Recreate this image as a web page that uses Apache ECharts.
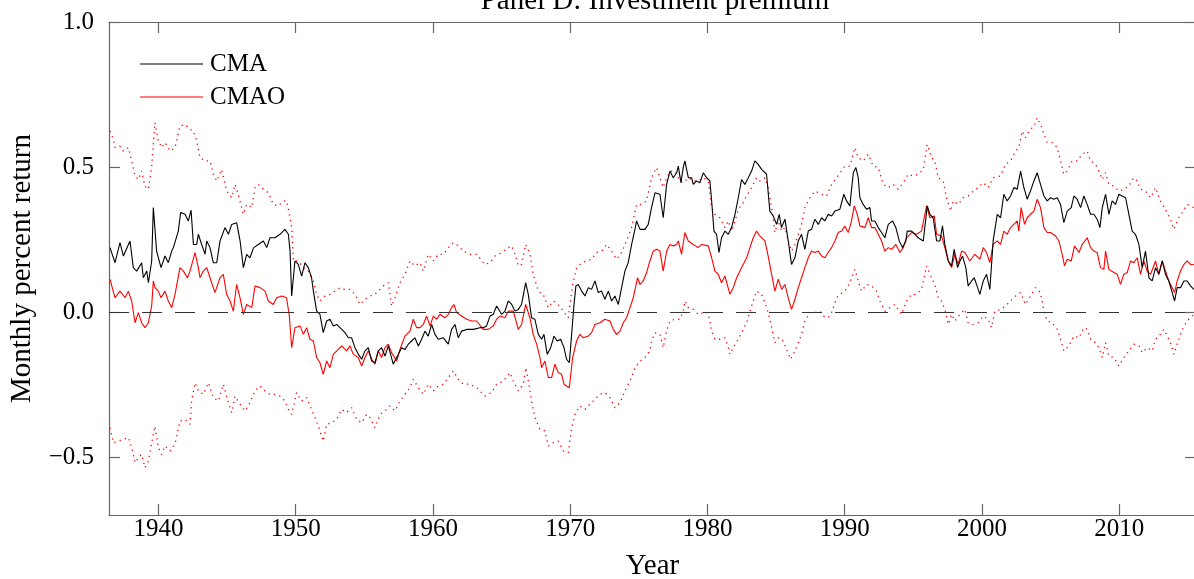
<!DOCTYPE html>
<html>
<head>
<meta charset="utf-8">
<title>Panel D: Investment premium</title>
<script src="https://cdn.jsdelivr.net/npm/echarts@6/dist/echarts.min.js"></script>
<style>
  html, body { margin: 0; padding: 0; background: #fff; }
  #InvestmentChartDom { width: 1194px; height: 579px; }
</style>
</head>
<body>
<div id="InvestmentChartDom"></div>
<script>
// [year, monthly percent return]
const cma = [
  [1936.47,0.222],[1936.84,0.170],[1937.20,0.239],[1937.45,0.193],[1937.93,0.245],[1938.17,0.153],[1938.42,0.141],[1938.78,0.170],[1938.90,0.118],[1939.15,0.141],
  [1939.27,0.101],[1939.51,0.176],[1939.63,0.360],[1939.87,0.210],[1940.19,0.153],[1940.48,0.193],[1940.72,0.170],[1940.97,0.210],[1941.09,0.222],[1941.45,0.279],
  [1941.62,0.343],[1941.94,0.337],[1942.18,0.314],[1942.38,0.351],[1942.55,0.233],[1942.79,0.233],[1942.91,0.268],[1943.15,0.233],[1943.40,0.199],[1943.52,0.245],
  [1943.76,0.222],[1944.00,0.170],[1944.25,0.170],[1944.49,0.245],[1944.85,0.291],[1945.10,0.268],[1945.34,0.302],[1945.70,0.308],[1945.95,0.245],[1946.19,0.153],
  [1946.43,0.199],[1946.67,0.187],[1946.94,0.222],[1947.28,0.233],[1947.65,0.245],[1947.89,0.222],[1948.13,0.256],[1948.49,0.256],[1948.86,0.268],[1949.22,0.285],
  [1949.47,0.268],[1949.59,0.210],[1949.71,0.055],[1949.95,0.176],[1950.19,0.164],[1950.44,0.124],[1950.68,0.170],[1950.92,0.153],[1951.16,0.118],[1951.29,0.072],
  [1951.53,0.003],[1951.77,-0.008],[1952.01,-0.071],[1952.26,-0.031],[1952.50,-0.025],[1952.74,-0.048],[1952.99,-0.043],[1953.23,-0.054],[1953.59,-0.071],[1953.84,-0.089],
  [1954.08,-0.089],[1954.32,-0.123],[1954.57,-0.146],[1954.81,-0.163],[1955.05,-0.134],[1955.29,-0.123],[1955.54,-0.169],[1955.78,-0.175],[1956.02,-0.134],[1956.26,-0.123],
  [1956.51,-0.152],[1956.75,-0.117],[1957.11,-0.180],[1957.48,-0.146],[1957.72,-0.123],[1957.96,-0.129],[1958.21,-0.111],[1958.45,-0.100],[1958.69,-0.089],[1958.94,-0.117],
  [1959.18,-0.094],[1959.42,-0.066],[1959.66,-0.083],[1959.91,-0.043],[1960.15,-0.077],[1960.39,-0.094],[1960.76,-0.089],[1961.12,-0.111],[1961.36,-0.060],[1961.61,-0.043],
  [1961.85,-0.089],[1962.09,-0.066],[1962.46,-0.060],[1962.94,-0.060],[1963.43,-0.054],[1963.67,-0.054],[1963.91,-0.048],[1964.16,-0.014],[1964.40,-0.008],[1964.64,0.021],
  [1964.76,0.026],[1965.01,-0.008],[1965.25,0.003],[1965.49,0.038],[1965.74,0.026],[1965.98,0.003],[1966.22,0.009],[1966.46,0.026],[1966.76,0.101],[1966.95,0.061],
  [1967.19,-0.020],[1967.43,-0.025],[1967.68,-0.077],[1967.92,-0.094],[1968.09,-0.077],[1968.33,-0.146],[1968.58,-0.123],[1968.82,-0.083],[1969.06,-0.100],[1969.31,-0.094],
  [1969.55,-0.123],[1969.74,-0.163],[1969.94,-0.175],[1970.11,-0.077],[1970.28,0.026],[1970.42,0.090],[1970.59,0.095],[1970.84,0.072],[1971.08,0.055],[1971.32,0.084],
  [1971.56,0.078],[1971.81,0.107],[1972.05,0.067],[1972.29,0.072],[1972.53,0.044],[1972.78,0.072],[1973.02,0.038],[1973.26,0.055],[1973.51,0.026],[1973.75,0.084],
  [1973.99,0.141],[1974.23,0.170],[1974.48,0.233],[1974.72,0.285],[1974.84,0.314],[1975.09,0.285],[1975.45,0.285],[1975.69,0.302],[1975.93,0.360],[1976.18,0.411],
  [1976.54,0.406],[1976.78,0.325],[1977.03,0.440],[1977.27,0.486],[1977.51,0.463],[1977.76,0.480],[1977.88,0.503],[1978.07,0.446],[1978.24,0.498],[1978.36,0.521],
  [1978.61,0.463],[1978.85,0.463],[1978.97,0.440],[1979.21,0.452],[1979.46,0.446],[1979.70,0.480],[1979.94,0.463],[1980.18,0.452],[1980.31,0.383],[1980.48,0.279],
  [1980.67,0.268],[1980.84,0.205],[1981.03,0.256],[1981.28,0.279],[1981.52,0.268],[1981.76,0.291],[1982.01,0.337],[1982.25,0.394],[1982.49,0.457],[1982.73,0.440],
  [1982.98,0.463],[1983.22,0.486],[1983.46,0.521],[1983.70,0.509],[1983.95,0.492],[1984.31,0.475],[1984.55,0.348],[1984.80,0.331],[1985.04,0.302],[1985.23,0.337],
  [1985.40,0.291],[1985.65,0.320],[1985.89,0.245],[1986.13,0.164],[1986.38,0.187],[1986.62,0.245],[1986.86,0.268],[1987.10,0.216],[1987.35,0.279],[1987.59,0.285],
  [1987.83,0.320],[1988.08,0.302],[1988.32,0.325],[1988.56,0.314],[1988.80,0.337],[1989.05,0.331],[1989.29,0.348],[1989.65,0.354],[1989.94,0.406],[1990.14,0.383],
  [1990.38,0.366],[1990.63,0.480],[1990.82,0.498],[1990.99,0.463],[1991.11,0.394],[1991.35,0.371],[1991.60,0.354],[1991.84,0.360],[1991.96,0.314],[1992.20,0.314],
  [1992.45,0.291],[1992.69,0.274],[1992.93,0.256],[1993.18,0.302],[1993.49,0.314],[1993.73,0.291],[1993.98,0.245],[1994.22,0.222],[1994.46,0.245],[1994.56,0.279],
  [1994.88,0.279],[1995.12,0.268],[1995.36,0.256],[1995.73,0.245],[1996.02,0.366],[1996.21,0.337],[1996.45,0.325],[1996.70,0.245],[1996.94,0.245],[1997.13,0.297],
  [1997.30,0.233],[1997.55,0.176],[1997.79,0.159],[1997.98,0.216],[1998.23,0.153],[1998.40,0.176],[1998.59,0.193],[1998.83,0.153],[1999.00,0.090],[1999.25,0.107],
  [1999.44,0.118],[1999.61,0.095],[1999.85,0.061],[2000.10,0.107],[2000.34,0.130],[2000.58,0.078],[2000.82,0.245],[2001.12,0.337],[2001.36,0.325],[2001.60,0.406],
  [2001.84,0.383],[2002.09,0.400],[2002.33,0.429],[2002.57,0.423],[2002.82,0.486],[2003.06,0.429],[2003.30,0.389],[2003.54,0.417],[2003.79,0.452],[2004.03,0.480],
  [2004.27,0.440],[2004.52,0.400],[2004.76,0.383],[2005.00,0.394],[2005.24,0.389],[2005.49,0.394],[2005.73,0.371],[2005.97,0.308],[2006.22,0.348],[2006.51,0.360],
  [2006.70,0.400],[2006.94,0.389],[2007.19,0.360],[2007.43,0.400],[2007.67,0.371],[2007.92,0.337],[2008.16,0.337],[2008.40,0.320],[2008.60,0.291],[2008.77,0.360],
  [2009.01,0.406],[2009.25,0.337],[2009.49,0.383],[2009.74,0.371],[2009.98,0.406],[2010.22,0.400],[2010.47,0.394],[2010.71,0.337],[2010.95,0.279],[2011.19,0.268],
  [2011.44,0.233],[2011.68,0.153],[2011.92,0.210],[2012.17,0.118],[2012.41,0.107],[2012.65,0.153],[2012.89,0.130],[2013.14,0.176],[2013.38,0.130],[2013.62,0.107],
  [2013.87,0.067],[2014.04,0.038],[2014.23,0.084],[2014.47,0.084],[2014.72,0.107],[2014.96,0.107],[2015.20,0.090],[2015.44,0.078]
];

const cmao = [
  [1936.47,0.113],[1936.84,0.049],[1937.20,0.072],[1937.57,0.049],[1937.81,0.072],[1938.05,0.038],[1938.30,-0.037],[1938.54,-0.002],[1938.78,-0.037],[1939.02,-0.054],
  [1939.27,-0.037],[1939.51,0.021],[1939.63,0.107],[1939.75,0.084],[1939.99,0.072],[1940.19,0.049],[1940.48,0.072],[1940.72,0.038],[1940.97,0.015],[1941.21,0.061],
  [1941.57,0.153],[1941.82,0.141],[1942.11,0.118],[1942.30,0.141],[1942.67,0.205],[1942.91,0.153],[1943.03,0.118],[1943.27,0.141],[1943.52,0.153],[1943.76,0.118],
  [1944.12,0.067],[1944.49,0.118],[1944.73,0.130],[1944.97,0.061],[1945.22,0.038],[1945.46,0.003],[1945.70,0.095],[1945.95,0.049],[1946.19,-0.008],[1946.43,0.026],
  [1946.80,0.015],[1947.04,0.090],[1947.40,0.084],[1947.77,0.072],[1948.01,0.038],[1948.37,0.026],[1948.62,0.049],[1948.98,0.055],[1949.34,0.049],[1949.54,-0.014],
  [1949.71,-0.123],[1949.95,-0.054],[1950.32,-0.048],[1950.56,-0.077],[1950.80,-0.054],[1951.04,-0.094],[1951.29,-0.100],[1951.53,-0.157],[1951.77,-0.175],[1952.01,-0.215],
  [1952.26,-0.169],[1952.50,-0.192],[1952.74,-0.146],[1953.11,-0.129],[1953.35,-0.117],[1953.71,-0.134],[1953.96,-0.117],[1954.20,-0.146],[1954.56,-0.157],[1954.81,-0.186],
  [1955.05,-0.157],[1955.29,-0.134],[1955.54,-0.163],[1955.78,-0.180],[1956.02,-0.134],[1956.26,-0.157],[1956.51,-0.123],[1956.75,-0.111],[1956.99,-0.140],[1957.36,-0.169],
  [1957.60,-0.129],[1957.96,-0.083],[1958.33,-0.066],[1958.57,-0.025],[1958.81,-0.054],[1959.06,-0.054],[1959.30,-0.043],[1959.54,-0.014],[1959.79,-0.048],[1960.03,-0.014],
  [1960.27,-0.025],[1960.51,-0.008],[1960.88,-0.020],[1961.12,-0.008],[1961.36,0.015],[1961.53,0.026],[1961.73,-0.002],[1962.09,-0.014],[1962.46,-0.025],[1962.82,-0.031],
  [1963.19,-0.031],[1963.67,-0.060],[1964.04,-0.060],[1964.40,-0.048],[1964.64,-0.025],[1964.89,-0.014],[1965.25,-0.020],[1965.49,0.003],[1965.86,0.003],[1966.22,-0.060],
  [1966.46,-0.043],[1966.76,0.026],[1967.07,-0.020],[1967.31,-0.077],[1967.56,-0.111],[1967.80,-0.157],[1967.92,-0.192],[1968.16,-0.169],[1968.41,-0.226],[1968.65,-0.226],
  [1968.89,-0.180],[1969.13,-0.209],[1969.38,-0.215],[1969.55,-0.249],[1969.74,-0.255],[1969.94,-0.261],[1970.18,-0.157],[1970.47,-0.100],[1970.71,-0.077],[1970.96,-0.089],
  [1971.32,-0.083],[1971.56,-0.071],[1971.81,-0.043],[1972.17,-0.037],[1972.53,-0.025],[1972.90,-0.031],[1973.14,-0.060],[1973.38,-0.077],[1973.63,-0.066],[1973.87,-0.037],
  [1974.11,-0.020],[1974.36,0.015],[1974.60,0.049],[1974.91,0.118],[1975.09,0.095],[1975.33,0.107],[1975.57,0.136],[1975.81,0.176],[1976.06,0.210],[1976.30,0.216],
  [1976.54,0.210],[1976.78,0.141],[1977.03,0.210],[1977.27,0.233],[1977.51,0.228],[1977.76,0.233],[1977.88,0.245],[1978.12,0.199],[1978.36,0.274],[1978.61,0.245],
  [1978.97,0.233],[1979.33,0.222],[1979.58,0.233],[1980.06,0.228],[1980.31,0.187],[1980.55,0.141],[1980.79,0.130],[1981.03,0.101],[1981.28,0.124],[1981.64,0.061],
  [1981.88,0.084],[1982.13,0.118],[1982.37,0.141],[1982.61,0.164],[1982.86,0.187],[1983.10,0.222],[1983.34,0.256],[1983.58,0.279],[1983.83,0.262],[1984.19,0.245],
  [1984.43,0.193],[1984.68,0.130],[1984.92,0.072],[1985.16,0.113],[1985.41,0.078],[1985.65,0.095],[1985.89,0.049],[1986.13,0.009],[1986.38,0.044],[1986.62,0.084],
  [1986.86,0.118],[1987.10,0.153],[1987.35,0.187],[1987.59,0.210],[1987.83,0.205],[1988.08,0.210],[1988.32,0.193],[1988.56,0.187],[1988.80,0.205],[1989.05,0.222],
  [1989.29,0.245],[1989.53,0.274],[1989.78,0.279],[1990.02,0.296],[1990.26,0.274],[1990.50,0.314],[1990.70,0.366],[1990.92,0.337],[1991.11,0.297],[1991.48,0.291],
  [1991.72,0.325],[1991.96,0.291],[1992.20,0.291],[1992.45,0.268],[1992.69,0.245],[1992.93,0.210],[1993.18,0.222],[1993.42,0.216],[1993.73,0.233],[1994.03,0.205],
  [1994.27,0.222],[1994.51,0.256],[1994.88,0.274],[1995.24,0.268],[1995.60,0.279],[1995.97,0.366],[1996.21,0.325],[1996.53,0.331],[1996.70,0.268],[1997.06,0.262],
  [1997.30,0.222],[1997.55,0.176],[1997.79,0.153],[1998.03,0.199],[1998.27,0.164],[1998.52,0.210],[1998.76,0.205],[1999.12,0.176],[1999.49,0.199],[1999.85,0.182],
  [2000.10,0.222],[2000.34,0.205],[2000.58,0.170],[2000.82,0.233],[2001.12,0.245],[2001.36,0.233],[2001.60,0.279],[2001.84,0.268],[2002.09,0.291],[2002.33,0.302],
  [2002.57,0.314],[2002.69,0.279],[2002.86,0.360],[2003.11,0.302],[2003.30,0.325],[2003.54,0.337],[2003.79,0.348],[2004.03,0.389],[2004.27,0.360],[2004.52,0.291],
  [2004.76,0.274],[2005.00,0.274],[2005.37,0.262],[2005.61,0.245],[2005.85,0.199],[2006.02,0.159],[2006.22,0.182],[2006.51,0.176],[2006.75,0.228],[2007.07,0.205],
  [2007.31,0.233],[2007.67,0.256],[2007.92,0.222],[2008.16,0.210],[2008.40,0.205],[2008.64,0.153],[2008.89,0.147],[2009.01,0.210],[2009.25,0.147],[2009.62,0.136],
  [2009.86,0.130],[2010.10,0.095],[2010.34,0.130],[2010.59,0.136],[2010.83,0.176],[2011.07,0.170],[2011.32,0.187],[2011.56,0.130],[2011.80,0.176],[2012.04,0.141],
  [2012.29,0.130],[2012.65,0.176],[2012.89,0.130],[2013.14,0.176],[2013.38,0.141],[2013.62,0.107],[2013.87,0.084],[2014.04,0.067],[2014.23,0.107],[2014.47,0.141],
  [2014.72,0.164],[2014.96,0.176],[2015.20,0.164],[2015.44,0.164]
];

// dotted red bounds around CMAO
const cmaoUpper = [
  [1936.47,0.624],[1936.72,0.595],[1936.84,0.567],[1937.20,0.572],[1937.45,0.555],[1937.81,0.567],[1938.05,0.521],[1938.30,0.469],[1938.54,0.457],[1938.78,0.486],
  [1939.02,0.434],[1939.27,0.423],[1939.51,0.503],[1939.75,0.653],[1939.99,0.590],[1940.24,0.567],[1940.48,0.584],[1940.85,0.555],[1941.21,0.567],[1941.57,0.641],
  [1941.94,0.647],[1942.30,0.630],[1942.55,0.624],[1942.79,0.590],[1943.03,0.532],[1943.40,0.521],[1943.76,0.521],[1944.00,0.475],[1944.25,0.452],[1944.61,0.492],
  [1944.97,0.417],[1945.34,0.394],[1945.58,0.440],[1945.82,0.406],[1946.19,0.337],[1946.43,0.371],[1946.80,0.360],[1947.04,0.429],[1947.28,0.440],[1947.65,0.423],
  [1948.01,0.411],[1948.37,0.371],[1948.74,0.366],[1949.10,0.383],[1949.35,0.383],[1949.54,0.337],[1949.71,0.291],[1949.83,0.176],[1950.19,0.176],[1950.56,0.153],
  [1950.92,0.141],[1951.29,0.107],[1951.53,0.061],[1951.77,0.038],[1952.14,0.055],[1952.50,0.061],[1952.87,0.072],[1953.23,0.084],[1953.59,0.078],[1953.96,0.078],
  [1954.32,0.061],[1954.69,0.026],[1955.05,0.044],[1955.41,0.055],[1955.78,0.061],[1956.14,0.078],[1956.51,0.095],[1956.75,0.101],[1956.99,0.020],[1957.24,0.049],
  [1957.60,0.101],[1957.96,0.130],[1958.33,0.176],[1958.69,0.159],[1959.06,0.170],[1959.30,0.141],[1959.66,0.199],[1960.03,0.176],[1960.39,0.199],[1960.76,0.199],
  [1961.12,0.222],[1961.49,0.239],[1961.85,0.228],[1962.21,0.210],[1962.70,0.199],[1963.19,0.199],[1963.79,0.164],[1964.16,0.170],[1964.52,0.193],[1965.01,0.205],
  [1965.49,0.222],[1965.74,0.228],[1965.98,0.199],[1966.22,0.159],[1966.46,0.164],[1966.76,0.233],[1967.07,0.199],[1967.31,0.130],[1967.68,0.072],[1968.04,0.061],
  [1968.41,0.015],[1968.77,0.038],[1969.13,0.026],[1969.50,0.003],[1969.86,-0.020],[1970.18,0.095],[1970.47,0.153],[1970.84,0.170],[1971.20,0.176],[1971.56,0.182],
  [1971.93,0.205],[1972.29,0.210],[1972.66,0.233],[1973.02,0.210],[1973.38,0.182],[1973.75,0.205],[1974.11,0.245],[1974.48,0.291],[1974.84,0.371],[1975.21,0.371],
  [1975.57,0.383],[1975.93,0.463],[1976.30,0.498],[1976.78,0.429],[1977.03,0.463],[1977.32,0.486],[1977.63,0.486],[1978.00,0.452],[1978.24,0.446],[1978.61,0.463],
  [1978.97,0.452],[1979.33,0.452],[1979.70,0.463],[1980.06,0.452],[1980.31,0.360],[1980.55,0.337],[1980.91,0.325],[1981.28,0.291],[1981.52,0.314],[1981.76,0.279],
  [1982.01,0.314],[1982.25,0.354],[1982.61,0.377],[1982.86,0.400],[1983.22,0.429],[1983.58,0.463],[1983.83,0.452],[1984.19,0.463],[1984.43,0.429],[1984.68,0.360],
  [1984.92,0.274],[1985.16,0.314],[1985.41,0.279],[1985.65,0.291],[1985.89,0.245],[1986.13,0.210],[1986.38,0.233],[1986.62,0.268],[1986.86,0.302],[1987.10,0.360],
  [1987.47,0.394],[1987.83,0.417],[1988.32,0.406],[1988.68,0.400],[1989.05,0.440],[1989.41,0.463],[1990.02,0.503],[1990.38,0.503],[1990.75,0.567],[1990.99,0.532],
  [1991.35,0.521],[1991.72,0.544],[1992.08,0.503],[1992.45,0.498],[1992.81,0.440],[1993.18,0.429],[1993.54,0.440],[1993.90,0.423],[1994.27,0.446],[1994.63,0.475],
  [1994.99,0.469],[1995.36,0.475],[1995.73,0.492],[1996.02,0.578],[1996.33,0.532],[1996.57,0.521],[1996.82,0.463],[1997.18,0.452],[1997.42,0.394],[1997.72,0.348],
  [1997.91,0.383],[1998.28,0.371],[1998.64,0.394],[1999.00,0.400],[1999.37,0.417],[1999.73,0.429],[2000.10,0.446],[2000.46,0.429],[2000.82,0.463],[2001.36,0.469],
  [2001.72,0.509],[2002.09,0.521],[2002.45,0.555],[2002.69,0.567],[2002.94,0.624],[2003.18,0.601],[2003.42,0.624],[2003.79,0.641],[2004.03,0.670],[2004.27,0.647],
  [2004.52,0.613],[2004.76,0.584],[2005.12,0.584],[2005.49,0.567],[2005.73,0.521],[2005.97,0.475],[2006.22,0.486],[2006.58,0.521],[2006.94,0.521],[2007.31,0.544],
  [2007.67,0.555],[2007.92,0.521],[2008.28,0.509],[2008.52,0.486],[2008.77,0.457],[2009.01,0.480],[2009.25,0.440],[2009.62,0.434],[2009.98,0.417],[2010.34,0.423],
  [2010.71,0.434],[2011.07,0.463],[2011.32,0.452],[2011.56,0.423],[2011.92,0.417],[2012.29,0.394],[2012.65,0.429],[2013.01,0.383],[2013.38,0.354],[2013.74,0.320],
  [2013.99,0.285],[2014.35,0.325],[2014.59,0.342],[2014.96,0.371],[2015.44,0.360]
];

const cmaoLower = [
  [1936.47,-0.399],[1936.72,-0.451],[1937.08,-0.445],[1937.45,-0.439],[1937.81,-0.433],[1938.05,-0.468],[1938.30,-0.520],[1938.54,-0.502],[1938.78,-0.491],[1939.02,-0.537],
  [1939.27,-0.514],[1939.51,-0.451],[1939.75,-0.393],[1939.99,-0.468],[1940.24,-0.491],[1940.48,-0.462],[1940.85,-0.479],[1941.21,-0.456],[1941.57,-0.376],[1941.94,-0.370],
  [1942.30,-0.387],[1942.42,-0.307],[1942.67,-0.244],[1942.91,-0.272],[1943.27,-0.284],[1943.64,-0.244],[1944.00,-0.295],[1944.37,-0.307],[1944.73,-0.249],[1945.10,-0.313],
  [1945.34,-0.347],[1945.58,-0.290],[1945.95,-0.318],[1946.31,-0.341],[1946.67,-0.313],[1947.04,-0.272],[1947.40,-0.255],[1947.77,-0.272],[1948.13,-0.284],[1948.49,-0.284],
  [1948.86,-0.290],[1949.22,-0.307],[1949.47,-0.336],[1949.71,-0.353],[1950.07,-0.278],[1950.44,-0.307],[1950.80,-0.295],[1951.16,-0.336],[1951.41,-0.364],[1951.65,-0.393],
  [1951.89,-0.428],[1952.01,-0.445],[1952.26,-0.387],[1952.62,-0.382],[1952.99,-0.370],[1953.35,-0.336],[1953.71,-0.347],[1954.08,-0.330],[1954.44,-0.370],[1954.81,-0.382],
  [1955.17,-0.353],[1955.41,-0.364],[1955.78,-0.399],[1956.14,-0.353],[1956.51,-0.341],[1956.87,-0.324],[1957.24,-0.341],[1957.60,-0.307],[1957.96,-0.284],[1958.33,-0.261],
  [1958.57,-0.232],[1958.94,-0.261],[1959.30,-0.284],[1959.66,-0.249],[1960.03,-0.272],[1960.39,-0.255],[1960.76,-0.249],[1961.12,-0.226],[1961.49,-0.203],[1961.85,-0.232],
  [1962.21,-0.249],[1962.70,-0.249],[1963.19,-0.261],[1963.79,-0.290],[1964.28,-0.278],[1964.64,-0.249],[1965.13,-0.238],[1965.61,-0.209],[1965.86,-0.238],[1966.22,-0.272],
  [1966.58,-0.249],[1966.78,-0.192],[1966.95,-0.238],[1967.19,-0.307],[1967.43,-0.364],[1967.80,-0.405],[1968.16,-0.410],[1968.41,-0.462],[1968.77,-0.451],[1969.13,-0.445],
  [1969.50,-0.479],[1969.86,-0.485],[1970.11,-0.399],[1970.35,-0.353],[1970.71,-0.324],[1971.08,-0.336],[1971.44,-0.318],[1971.81,-0.301],[1972.17,-0.284],[1972.53,-0.278],
  [1972.90,-0.295],[1973.26,-0.330],[1973.63,-0.313],[1973.99,-0.272],[1974.36,-0.238],[1974.72,-0.192],[1975.09,-0.169],[1975.45,-0.157],[1975.81,-0.134],[1975.93,-0.100],
  [1976.18,-0.071],[1976.54,-0.077],[1976.78,-0.123],[1977.03,-0.066],[1977.27,-0.031],[1977.63,-0.025],[1978.00,-0.025],[1978.24,0.003],[1978.36,0.038],[1978.61,0.015],
  [1978.97,0.009],[1979.33,-0.008],[1979.70,-0.002],[1980.06,-0.002],[1980.31,-0.066],[1980.55,-0.094],[1980.91,-0.094],[1981.28,-0.089],[1981.52,-0.123],[1981.64,-0.146],
  [1981.88,-0.123],[1982.25,-0.094],[1982.49,-0.071],[1982.86,-0.037],[1983.10,0.003],[1983.34,0.038],[1983.58,0.072],[1983.95,0.061],[1984.19,0.032],[1984.43,-0.002],
  [1984.68,-0.054],[1984.92,-0.106],[1985.16,-0.089],[1985.53,-0.100],[1985.77,-0.129],[1986.06,-0.163],[1986.38,-0.134],[1986.62,-0.106],[1986.86,-0.077],[1987.10,-0.031],
  [1987.47,-0.002],[1987.83,-0.002],[1988.20,0.003],[1988.44,-0.014],[1988.80,-0.020],[1989.05,-0.002],[1989.41,0.049],[1989.65,0.061],[1990.02,0.072],[1990.38,0.101],
  [1990.75,0.147],[1990.99,0.107],[1991.23,0.072],[1991.60,0.095],[1991.96,0.090],[1992.32,0.072],[1992.57,0.038],[1992.93,0.003],[1993.30,0.015],[1993.66,0.026],
  [1994.15,-0.008],[1994.51,0.038],[1994.88,0.061],[1995.24,0.061],[1995.60,0.078],[1995.97,0.159],[1996.33,0.118],[1996.57,0.095],[1996.82,0.049],[1997.06,0.038],
  [1997.30,0.009],[1997.55,-0.043],[1997.79,-0.008],[1998.03,-0.031],[1998.40,-0.008],[1998.76,0.009],[1999.00,-0.037],[1999.37,-0.043],[1999.73,-0.037],[2000.10,-0.014],
  [2000.46,-0.025],[2000.70,-0.054],[2000.95,0.003],[2001.36,0.009],[2001.72,0.021],[2002.09,0.038],[2002.45,0.055],[2002.82,0.067],[2003.18,0.026],[2003.54,0.055],
  [2003.91,0.084],[2004.27,0.067],[2004.52,0.003],[2004.76,-0.031],[2005.12,-0.037],[2005.49,-0.060],[2005.73,-0.094],[2005.97,-0.134],[2006.34,-0.117],[2006.70,-0.083],
  [2007.07,-0.089],[2007.43,-0.054],[2007.67,-0.060],[2007.92,-0.094],[2008.28,-0.106],[2008.52,-0.123],[2008.77,-0.157],[2009.01,-0.106],[2009.25,-0.152],[2009.62,-0.157],
  [2009.98,-0.186],[2010.34,-0.157],[2010.71,-0.134],[2011.07,-0.111],[2011.44,-0.117],[2011.68,-0.140],[2012.04,-0.123],[2012.41,-0.134],[2012.65,-0.094],[2013.01,-0.077],
  [2013.26,-0.060],[2013.50,-0.083],[2013.74,-0.106],[2013.99,-0.146],[2014.23,-0.111],[2014.47,-0.077],[2014.72,-0.048],[2015.08,-0.025],[2015.44,-0.008]
];

const yearTicks = [1940, 1950, 1960, 1970, 1980, 1990, 2000, 2010];
const returnTicks = [-0.5, 0, 0.5, 1.0];

const serif = '"Liberation Serif", "DejaVu Serif", serif';
const frame = { show: true, onZero: false, lineStyle: { color: '#666', width: 1.2 } };
const fmtReturn = v => (v < 0 ? '\u2212' + Math.abs(v).toFixed(1) : v.toFixed(1));

const xBase = {
  type: 'value',
  min: 1936.4,
  max: 2015.6,
  axisLine: frame,
  splitLine: { show: false },
  axisTick: { inside: true, length: 11, customValues: yearTicks, lineStyle: { color: '#666', width: 1.2 } }
};
const yBase = {
  type: 'value',
  min: -0.7,
  max: 1.0,
  axisLine: frame,
  splitLine: { show: false },
  axisTick: { inside: true, length: 11, customValues: returnTicks, lineStyle: { color: '#666', width: 1.2 } }
};

const option = {
  animation: false,
  backgroundColor: '#fff',
  textStyle: { fontFamily: serif },
  graphic: [{
    type: 'text',
    x: 655,
    y: 1,
    style: {
      text: 'Panel D: Investment premium',
      font: '29px ' + serif,
      fill: '#000',
      align: 'center',
      verticalAlign: 'middle'
    }
  }],
  legend: {
    data: ['CMA', 'CMAO'],
    orient: 'vertical',
    left: 140,
    top: 50,
    padding: 0,
    itemGap: 5,
    icon: 'rect',
    itemWidth: 63,
    itemHeight: 1.2,
    textStyle: { fontFamily: serif, fontSize: 25, color: '#000', lineHeight: 28, padding: [0, 0, 0, 2] }
  },
  grid: { left: 109, right: -2, top: 22, bottom: 64, containLabel: false, outerBoundsMode: 'none' },
  xAxis: [
    Object.assign({}, xBase, {
      position: 'bottom',
      name: 'Year',
      nameLocation: 'middle',
      nameGap: 37,
      nameTextStyle: { fontFamily: serif, fontSize: 29, color: '#000' },
      axisLabel: { customValues: yearTicks, margin: 2, fontFamily: serif, fontSize: 25, color: '#000', formatter: v => String(v) }
    }),
    Object.assign({}, xBase, { position: 'top', axisLabel: { show: false } })
  ],
  yAxis: [
    Object.assign({}, yBase, {
      position: 'left',
      name: 'Monthly percent return',
      nameLocation: 'middle',
      nameGap: 72,
      nameTextStyle: { fontFamily: serif, fontSize: 29, color: '#000' },
      axisLabel: { customValues: returnTicks, margin: 15, fontFamily: serif, fontSize: 25, color: '#000', formatter: fmtReturn }
    }),
    Object.assign({}, yBase, { position: 'right', axisLabel: { show: false } })
  ],
  series: [
    {
      name: 'upper',
      type: 'line',
      data: cmaoUpper,
      symbol: 'none',
      lineStyle: { color: '#ff0000', width: 1.3, type: [1.3, 4.2] },
      z: 2
    },
    {
      name: 'lower',
      type: 'line',
      data: cmaoLower,
      symbol: 'none',
      lineStyle: { color: '#ff0000', width: 1.3, type: [1.3, 4.2] },
      z: 2
    },
    {
      name: 'CMAO',
      type: 'line',
      data: cmao,
      symbol: 'none',
      color: '#ff0000',
      lineStyle: { color: '#ff0000', width: 1.1 },
      z: 3,
      markLine: {
        silent: true,
        symbol: 'none',
        label: { show: false },
        lineStyle: { color: '#333', width: 1.2, type: [20, 13] },
        data: [{ yAxis: 0 }]
      }
    },
    {
      name: 'CMA',
      type: 'line',
      data: cma,
      symbol: 'none',
      color: '#000',
      lineStyle: { color: '#000', width: 1.1 },
      z: 4
    }
  ]
};

const chartDom = document.getElementById('InvestmentChartDom');
const myChart = echarts.init(chartDom);
myChart.setOption(option);
</script>
</body>
</html>
